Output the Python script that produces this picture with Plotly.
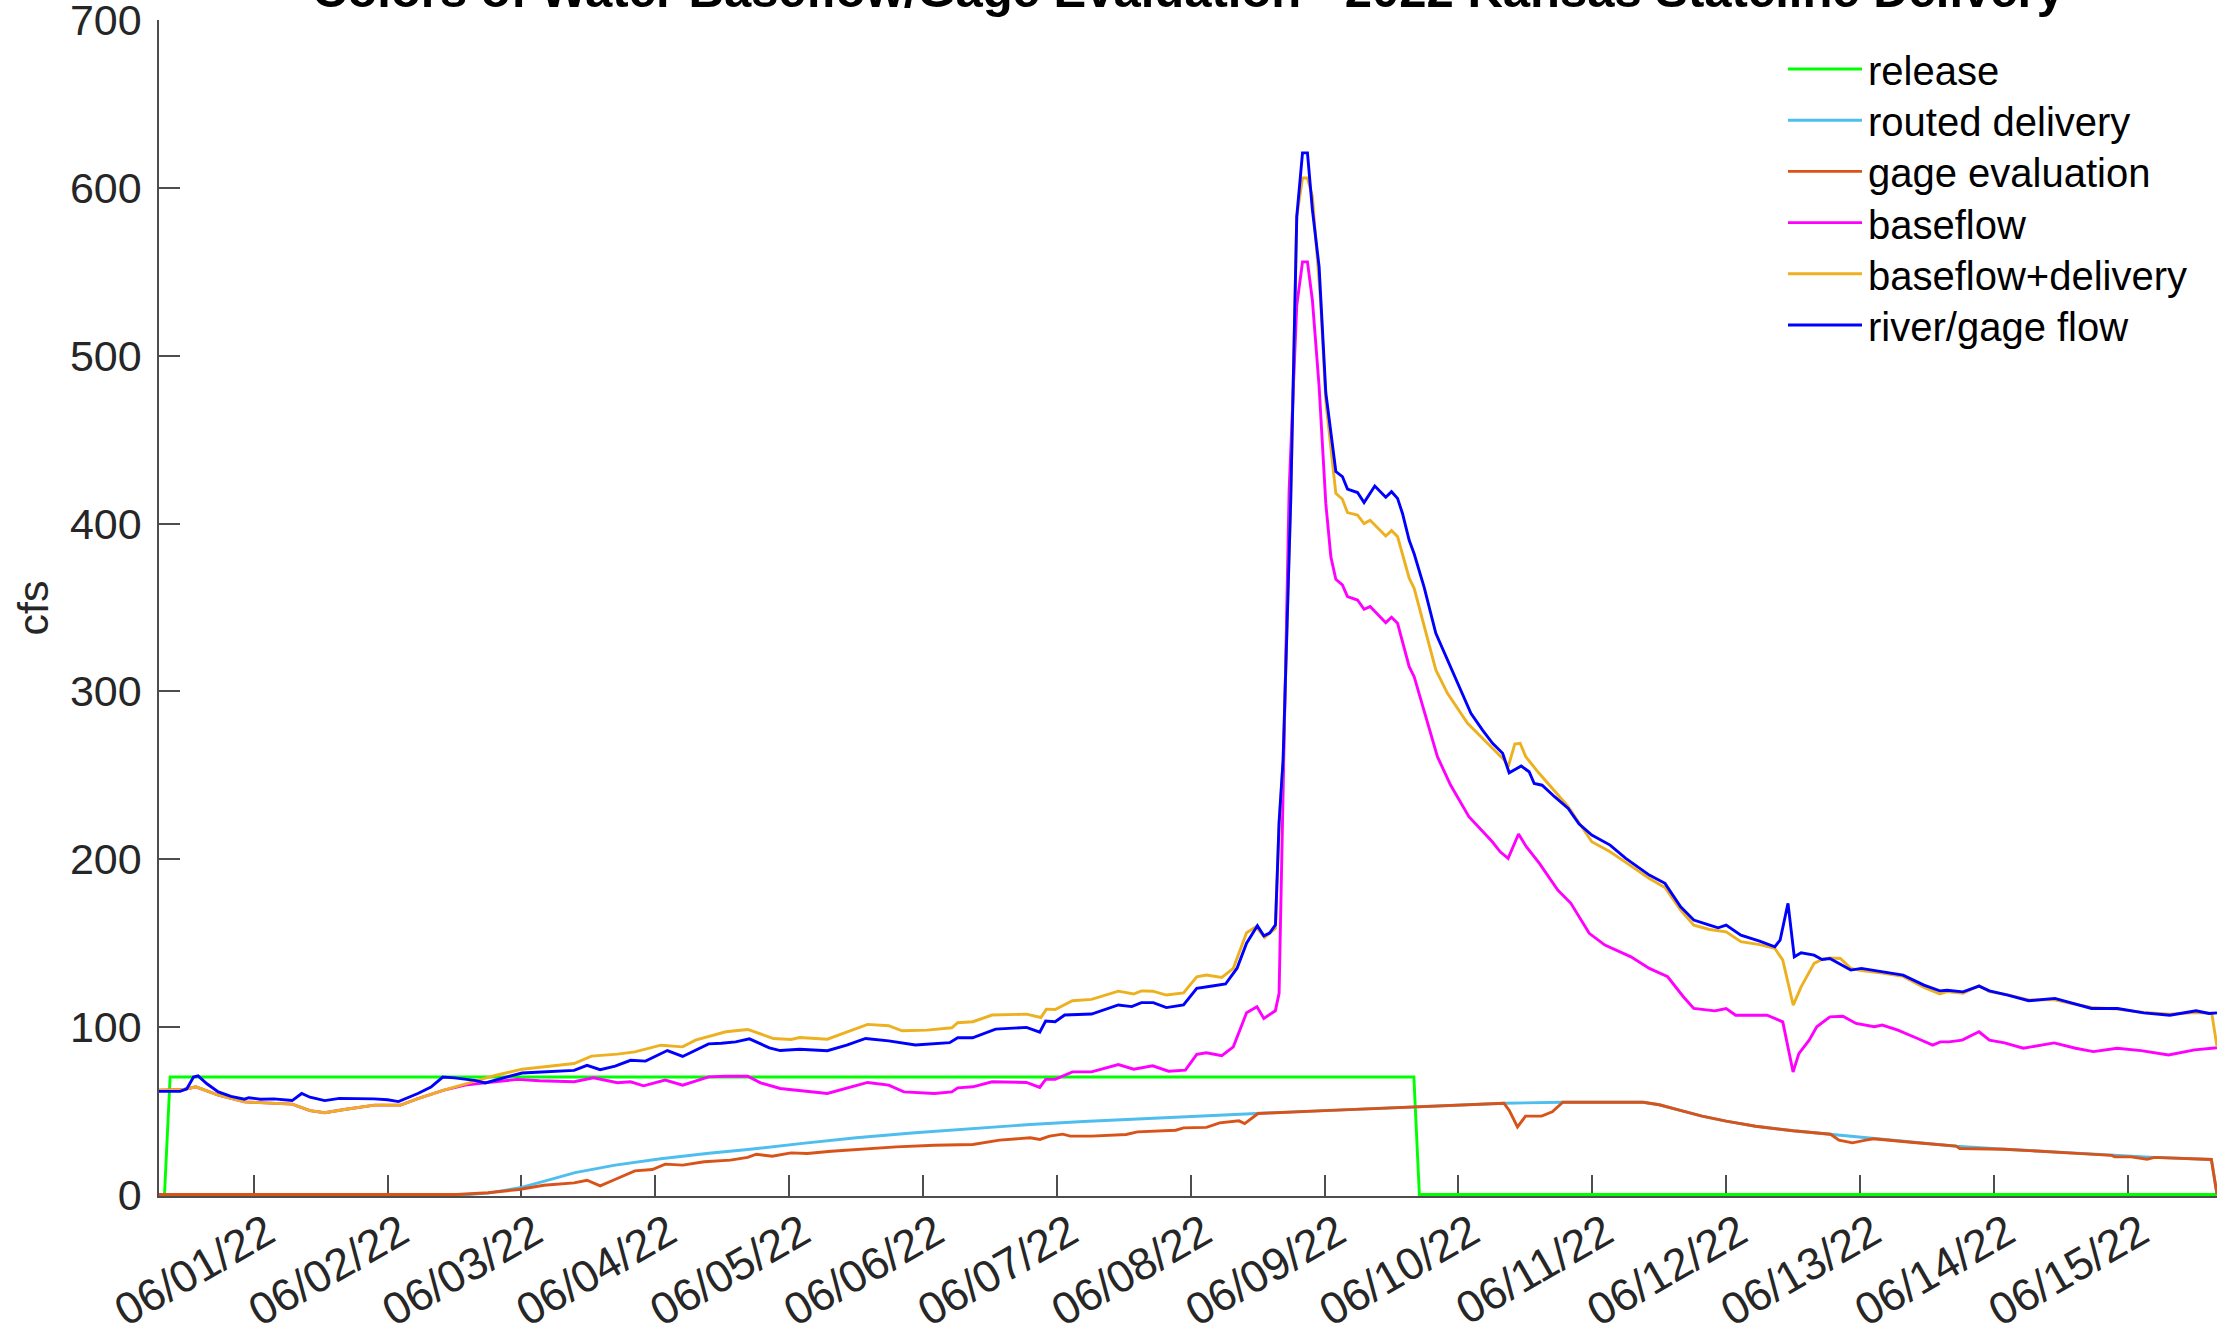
import pandas as pd
import plotly.graph_objects as go

# Time is kept as fractional days from 2022-06-01 00:00 (negative = 05/31).
JUNE1 = pd.Timestamp("2022-06-01")
START_DAY, END_DAY = -0.708, 14.667

TITLE = "Colors of Water Baseflow/Gage Evaluation - 2022 Kansas Stateline Delivery"
TICK_DAYS = list(range(0, 15))
Y_TICKS = [0, 100, 200, 300, 400, 500, 600, 700]

# (day, cfs) pairs for each series
release = [(-0.708, 0), (-0.667, 0), (-0.625, 70), (8.667, 70), (8.708, 0), (14.667, 0)]

routed = [
    (-0.708, 0), (1.6, 0), (1.75, 0.8), (2.0, 4.2), (2.2, 8.6), (2.4, 13.0), (2.7, 17.5),
    (3.04, 21.3), (3.4, 24.6), (3.69, 26.8), (4.1, 30.5), (4.5, 33.8), (4.94, 36.8),
    (5.4, 39.4), (5.8, 41.7), (6.2, 43.5), (6.66, 45.3), (7.1, 47.0), (7.49, 48.3),
    (8.0, 50.0), (8.42, 51.5), (8.9, 53.0), (9.34, 54.4), (9.78, 55.0), (10.38, 55.0),
    (10.5, 53.5), (10.65, 50.3), (10.82, 46.7), (11.0, 43.7), (11.22, 40.7), (11.5, 38.0),
    (11.78, 35.9), (12.1, 33.2), (12.4, 31.0), (12.72, 28.8), (13.08, 27.0), (13.62, 24.5),
    (14.2, 22.1), (14.625, 20.9), (14.667, 0),
]

gage = [
    (-0.708, 0), (1.514, 0), (1.75, 1.0), (1.98, 3.0), (2.167, 5.5), (2.393, 6.9), (2.49, 8.5),
    (2.588, 5.1), (2.685, 8.5), (2.847, 14.1), (2.977, 14.9), (3.074, 18.1), (3.204, 17.5),
    (3.365, 19.5), (3.56, 20.5), (3.69, 22.1), (3.755, 24.0), (3.873, 22.8), (4.014, 24.8),
    (4.135, 24.4), (4.314, 25.8), (4.55, 27.0), (4.8, 28.4), (5.086, 29.4), (5.372, 29.8),
    (5.572, 32.4), (5.801, 33.8), (5.873, 32.8), (5.945, 34.8), (6.043, 36.0), (6.1, 34.8),
    (6.259, 34.8), (6.517, 35.8), (6.602, 37.3), (6.888, 38.3), (6.946, 39.7), (7.117, 40.0),
    (7.216, 42.7), (7.36, 43.9), (7.403, 42.3), (7.503, 48.3), (8.0, 50.0), (8.42, 51.5),
    (8.9, 53.0), (9.34, 54.4), (9.38, 50.0), (9.441, 40.3), (9.501, 46.7), (9.621, 46.7),
    (9.701, 49.3), (9.78, 55.0), (10.38, 55.0), (10.5, 53.5), (10.65, 50.3), (10.82, 46.7),
    (11.0, 43.7), (11.22, 40.7), (11.5, 38.0), (11.78, 35.9), (11.843, 32.4), (11.943, 30.8),
    (12.043, 32.4), (12.1, 33.2), (12.4, 31.0), (12.72, 28.8), (12.744, 27.4), (12.905, 27.0),
    (13.08, 27.0), (13.62, 24.5), (13.88, 23.3), (13.904, 22.4), (14.025, 22.4), (14.145, 21.0),
    (14.2, 22.1), (14.625, 20.9), (14.667, 0),
]

baseflow = [
    (-0.708, 62.2), (-0.523, 62.6), (-0.433, 64.2), (-0.265, 59.2), (-0.07, 55.2), (0.1, 54.5),
    (0.287, 53.9), (0.42, 50.0), (0.53, 48.7), (0.676, 50.7), (0.903, 53.3), (1.097, 53.3),
    (1.226, 57.2), (1.421, 62.2), (1.58, 65.2), (1.746, 66.8), (1.972, 68.6), (2.134, 67.8),
    (2.393, 67.2), (2.538, 69.6), (2.717, 66.6), (2.815, 67.2), (2.912, 64.8), (3.074, 68.2),
    (3.204, 65.2), (3.398, 70.1), (3.527, 70.5), (3.69, 70.5), (3.786, 66.6), (3.933, 63.2),
    (4.078, 62.0), (4.285, 60.2), (4.586, 66.8), (4.743, 65.2), (4.857, 61.2), (5.086, 60.2),
    (5.215, 61.2), (5.259, 63.6), (5.372, 64.2), (5.516, 67.2), (5.773, 66.8), (5.872, 63.8),
    (5.916, 68.6), (5.987, 68.6), (6.116, 73.1), (6.259, 73.1), (6.459, 77.5), (6.574, 74.7),
    (6.716, 76.7), (6.834, 73.5), (6.96, 74.1), (7.045, 83.5), (7.117, 84.5), (7.232, 82.7),
    (7.318, 88.0), (7.417, 108.3), (7.495, 111.9), (7.546, 105.0), (7.632, 109.5),
    (7.66, 120.0), (7.735, 420.0), (7.792, 530.0), (7.835, 556.0), (7.872, 556.0),
    (7.909, 533.0), (7.959, 481.7), (8.009, 412.0), (8.047, 380.0), (8.084, 366.8),
    (8.133, 363.4), (8.171, 356.4), (8.246, 354.4), (8.295, 348.9), (8.34, 350.5),
    (8.457, 340.9), (8.5, 344.1), (8.545, 340.5), (8.632, 314.7), (8.669, 308.7),
    (8.726, 292.8), (8.843, 261.0), (8.941, 244.1), (9.078, 225.2), (9.253, 210.3),
    (9.312, 204.3), (9.371, 200.4), (9.449, 214.9), (9.507, 207.3), (9.605, 197.4),
    (9.742, 181.5), (9.84, 173.6), (9.977, 155.7), (10.094, 148.7), (10.289, 141.7),
    (10.426, 134.8), (10.563, 129.8), (10.68, 117.9), (10.758, 110.9), (10.915, 109.5),
    (11.0, 110.9), (11.071, 106.9), (11.306, 106.9), (11.423, 102.9), (11.5, 73.0),
    (11.543, 84.0), (11.62, 92.0), (11.677, 100.0), (11.775, 105.9), (11.872, 106.3),
    (11.97, 102.0), (12.107, 100.0), (12.166, 101.0), (12.283, 98.0), (12.43, 93.0),
    (12.543, 89.0), (12.6, 91.0), (12.664, 91.0), (12.763, 92.0), (12.889, 97.0),
    (12.967, 92.0), (13.08, 90.4), (13.22, 87.2), (13.45, 90.4), (13.61, 87.2),
    (13.744, 85.2), (13.92, 87.2), (14.1, 85.8), (14.305, 83.2), (14.5, 86.2), (14.667, 87.5),
]

base_plus_delivery = [
    (-0.708, 62.2), (-0.523, 62.6), (-0.433, 64.2), (-0.265, 59.2), (-0.07, 55.2), (0.1, 54.5),
    (0.287, 53.9), (0.42, 50.0), (0.53, 48.7), (0.676, 50.7), (0.903, 53.3), (1.097, 53.3),
    (1.226, 57.2), (1.421, 62.2), (1.616, 66.6), (1.81, 71.1), (2.005, 74.7), (2.2, 76.5),
    (2.393, 78.1), (2.523, 82.5), (2.717, 83.7), (2.847, 85.0), (3.042, 89.0), (3.204, 88.0),
    (3.3, 92.0), (3.527, 97.0), (3.69, 98.4), (3.883, 93.0), (4.014, 92.4), (4.078, 93.6),
    (4.285, 92.6), (4.586, 101.4), (4.743, 100.6), (4.843, 97.6), (5.029, 98.0), (5.215, 99.4),
    (5.259, 102.4), (5.372, 103.0), (5.516, 107.0), (5.773, 107.5), (5.881, 105.5),
    (5.921, 110.5), (5.987, 110.3), (6.116, 115.5), (6.259, 116.3), (6.459, 121.2),
    (6.574, 119.5), (6.631, 121.4), (6.716, 121.2), (6.818, 118.9), (6.946, 120.2),
    (7.045, 129.8), (7.117, 130.8), (7.232, 129.4), (7.318, 134.8), (7.417, 156.0),
    (7.489, 159.6), (7.552, 153.3), (7.632, 158.6), (7.66, 220.0), (7.69, 258.0),
    (7.747, 414.0), (7.792, 583.0), (7.835, 606.0), (7.872, 606.0), (7.909, 595.0),
    (7.97, 533.0), (8.009, 473.0), (8.047, 446.0), (8.084, 418.0), (8.133, 414.5),
    (8.171, 406.5), (8.246, 405.0), (8.295, 400.0), (8.34, 402.0), (8.457, 392.6),
    (8.5, 395.8), (8.545, 392.2), (8.632, 367.4), (8.669, 361.4), (8.831, 312.7),
    (8.918, 298.8), (9.068, 280.9), (9.218, 269.0), (9.342, 259.0), (9.372, 255.0),
    (9.421, 268.6), (9.461, 269.0), (9.503, 261.0), (9.593, 252.0), (9.703, 242.1),
    (9.82, 231.2), (9.996, 210.3), (10.133, 204.3), (10.25, 198.0), (10.426, 188.4),
    (10.543, 183.0), (10.66, 169.6), (10.758, 160.6), (10.876, 158.0), (11.0, 156.6),
    (11.11, 150.7), (11.25, 149.0), (11.364, 146.7), (11.423, 139.7), (11.501, 112.9),
    (11.56, 123.8), (11.657, 137.8), (11.716, 140.1), (11.775, 141.0), (11.853, 140.7),
    (11.931, 134.8), (12.01, 133.5), (12.166, 132.0), (12.322, 130.0), (12.478, 123.5),
    (12.596, 119.5), (12.65, 121.0), (12.77, 120.0), (12.889, 124.5), (12.967, 121.0),
    (13.104, 119.0), (13.26, 116.0), (13.456, 116.0), (13.573, 114.0), (13.73, 111.5),
    (13.924, 110.5), (14.12, 108.5), (14.315, 107.5), (14.511, 108.5), (14.628, 108.0),
    (14.667, 88.0),
]

river = [
    (-0.708, 61.5), (-0.55, 61.5), (-0.5, 63.0), (-0.45, 70.0), (-0.416, 70.7), (-0.35, 66.0),
    (-0.265, 61.2), (-0.17, 58.5), (-0.07, 56.8), (-0.036, 57.7), (0.05, 56.8), (0.15, 57.0),
    (0.287, 56.0), (0.358, 60.2), (0.42, 58.0), (0.53, 56.0), (0.64, 57.3), (0.78, 57.3),
    (0.9, 57.0), (1.0, 56.5), (1.081, 55.4), (1.226, 60.2), (1.324, 64.0), (1.412, 70.0),
    (1.5, 69.5), (1.65, 68.0), (1.73, 66.5), (1.907, 70.4), (2.005, 72.4), (2.15, 73.0),
    (2.393, 74.0), (2.49, 77.0), (2.588, 74.4), (2.7, 76.5), (2.815, 80.0), (2.927, 79.5),
    (3.09, 85.8), (3.204, 82.3), (3.3, 86.0), (3.398, 89.8), (3.494, 90.2), (3.6, 91.0),
    (3.703, 92.8), (3.78, 90.0), (3.852, 87.4), (3.933, 85.8), (4.078, 86.6), (4.285, 85.7),
    (4.43, 89.0), (4.571, 93.0), (4.743, 91.6), (4.943, 89.1), (5.1, 90.0), (5.199, 90.5),
    (5.259, 93.4), (5.37, 93.4), (5.542, 98.6), (5.773, 99.6), (5.872, 96.8), (5.916, 103.4),
    (5.987, 103.0), (6.058, 107.0), (6.259, 107.6), (6.459, 113.0), (6.559, 112.0),
    (6.631, 114.4), (6.72, 114.4), (6.818, 111.4), (6.946, 113.0), (7.045, 122.9),
    (7.161, 124.3), (7.26, 125.5), (7.346, 134.9), (7.417, 149.8), (7.498, 160.2),
    (7.546, 154.2), (7.589, 155.8), (7.633, 160.8), (7.66, 222.0), (7.69, 259.0),
    (7.747, 414.0), (7.792, 583.0), (7.835, 621.0), (7.872, 621.0), (7.909, 587.0),
    (7.959, 553.0), (8.009, 478.0), (8.084, 431.0), (8.133, 428.0), (8.171, 420.5),
    (8.246, 418.5), (8.295, 412.5), (8.375, 422.4), (8.457, 415.7), (8.5, 419.0),
    (8.545, 415.0), (8.582, 406.0), (8.632, 390.0), (8.669, 382.0), (8.744, 362.0),
    (8.831, 334.6), (8.918, 318.7), (9.018, 300.8), (9.093, 286.9), (9.18, 276.9),
    (9.255, 269.0), (9.33, 263.0), (9.379, 251.4), (9.469, 255.4), (9.528, 252.0),
    (9.566, 245.0), (9.625, 244.0), (9.72, 237.0), (9.82, 230.2), (9.9, 221.0),
    (9.996, 214.3), (10.133, 208.3), (10.25, 200.4), (10.426, 190.4), (10.543, 185.5),
    (10.66, 171.5), (10.758, 163.6), (10.876, 160.6), (10.94, 159.0), (11.0, 160.6),
    (11.11, 154.6), (11.25, 151.0), (11.364, 147.7), (11.403, 151.7), (11.462, 173.6),
    (11.509, 141.7), (11.56, 144.1), (11.657, 142.7), (11.716, 140.1), (11.775, 140.7),
    (11.931, 133.8), (12.01, 134.8), (12.166, 132.8), (12.322, 130.8), (12.478, 124.8),
    (12.596, 121.4), (12.65, 121.8), (12.77, 120.8), (12.889, 124.2), (12.967, 121.4),
    (13.104, 118.9), (13.26, 115.5), (13.456, 116.9), (13.573, 114.3), (13.73, 110.9),
    (13.924, 110.9), (14.12, 108.3), (14.315, 106.9), (14.511, 109.5), (14.608, 107.9),
    (14.667, 108.3),
]

SERIES = [
    ("release", release, "#00FF00"),
    ("routed delivery", routed, "#4DBEEE"),
    ("gage evaluation", gage, "#D95319"),
    ("baseflow", baseflow, "#FF00FF"),
    ("baseflow+delivery", base_plus_delivery, "#EDB120"),
    ("river/gage flow", river, "#0000FF"),
]

FONT = "Liberation Sans, Arial, Helvetica, sans-serif"
TEXT_COLOR = "#262626"
AXIS_COLOR = "#4d4d4d"
LINE_W = 2.9


def to_time(days):
    return [JUNE1 + pd.Timedelta(days=float(d)) for d in days]


fig = go.Figure()
for name, pts, color in SERIES:
    days, cfs = zip(*pts)
    fig.add_trace(go.Scatter(
        x=to_time(days), y=list(cfs), mode="lines", name=name,
        line=dict(color=color, width=LINE_W), showlegend=False,
    ))

# Legend drawn as line samples with labels in the upper right, no frame
W, H = 2220, 1338
M_L, M_R, M_T, M_B = 159, 3, 20, 142
plot_w, plot_h = W - M_L - M_R, H - M_T - M_B


def px_x(x):
    return (x - M_L) / plot_w


def px_y(y):
    return (H - M_B - y) / plot_h


shapes, annotations = [], []
for i, (name, _, color) in enumerate(SERIES):
    y_px = 69 + i * 51.2
    shapes.append(dict(type="line", xref="paper", yref="paper",
                       x0=px_x(1788), x1=px_x(1862), y0=px_y(y_px), y1=px_y(y_px),
                       line=dict(color=color, width=LINE_W)))
    annotations.append(dict(text=name, xref="paper", yref="paper",
                            x=px_x(1866), y=px_y(y_px + 2), xanchor="left", yanchor="middle",
                            showarrow=False, font=dict(family=FONT, size=40, color="#000000")))

annotations.append(dict(text="<b>" + TITLE + "</b>", xref="paper", yref="paper",
                        x=0.5, y=px_y(19), xanchor="center", yanchor="bottom",
                        showarrow=False, font=dict(family=FONT, size=49, color="#000000")))

fig.update_layout(
    width=W, height=H,
    margin=dict(l=M_L, r=M_R, t=M_T, b=M_B, pad=0, autoexpand=False),
    paper_bgcolor="white", plot_bgcolor="white",
    font=dict(family=FONT, size=43, color=TEXT_COLOR),
    shapes=shapes, annotations=annotations,
    showlegend=False,
)

fig.update_xaxes(
    type="date", automargin=False,
    range=[to_time([START_DAY])[0], to_time([END_DAY])[0]],
    tickvals=to_time(TICK_DAYS), tickformat="%m/%d/%y", tickangle=-30,
    ticks="inside", ticklen=21, tickwidth=1.5, tickcolor=AXIS_COLOR,
    showline=True, linecolor=AXIS_COLOR, linewidth=1.5,
    showgrid=False, zeroline=False, layer="below traces",
    tickfont=dict(family=FONT, size=45, color=TEXT_COLOR),
    ticklabelshift=13, ticklabelstandoff=-9, ticklabeloverflow="allow",
)
fig.update_yaxes(
    automargin=False,
    range=[-0.9, 700.2], tickvals=Y_TICKS,
    ticks="inside", ticklen=21, tickwidth=1.5, tickcolor=AXIS_COLOR,
    showline=True, linecolor=AXIS_COLOR, linewidth=1.5,
    showgrid=False, zeroline=False, layer="below traces",
    tickfont=dict(family=FONT, size=43, color=TEXT_COLOR),
    ticklabelstandoff=7, ticklabeloverflow="allow",
    title=dict(text="cfs", font=dict(family=FONT, size=43, color=TEXT_COLOR), standoff=8),
)

fig.write_html("out.html")
